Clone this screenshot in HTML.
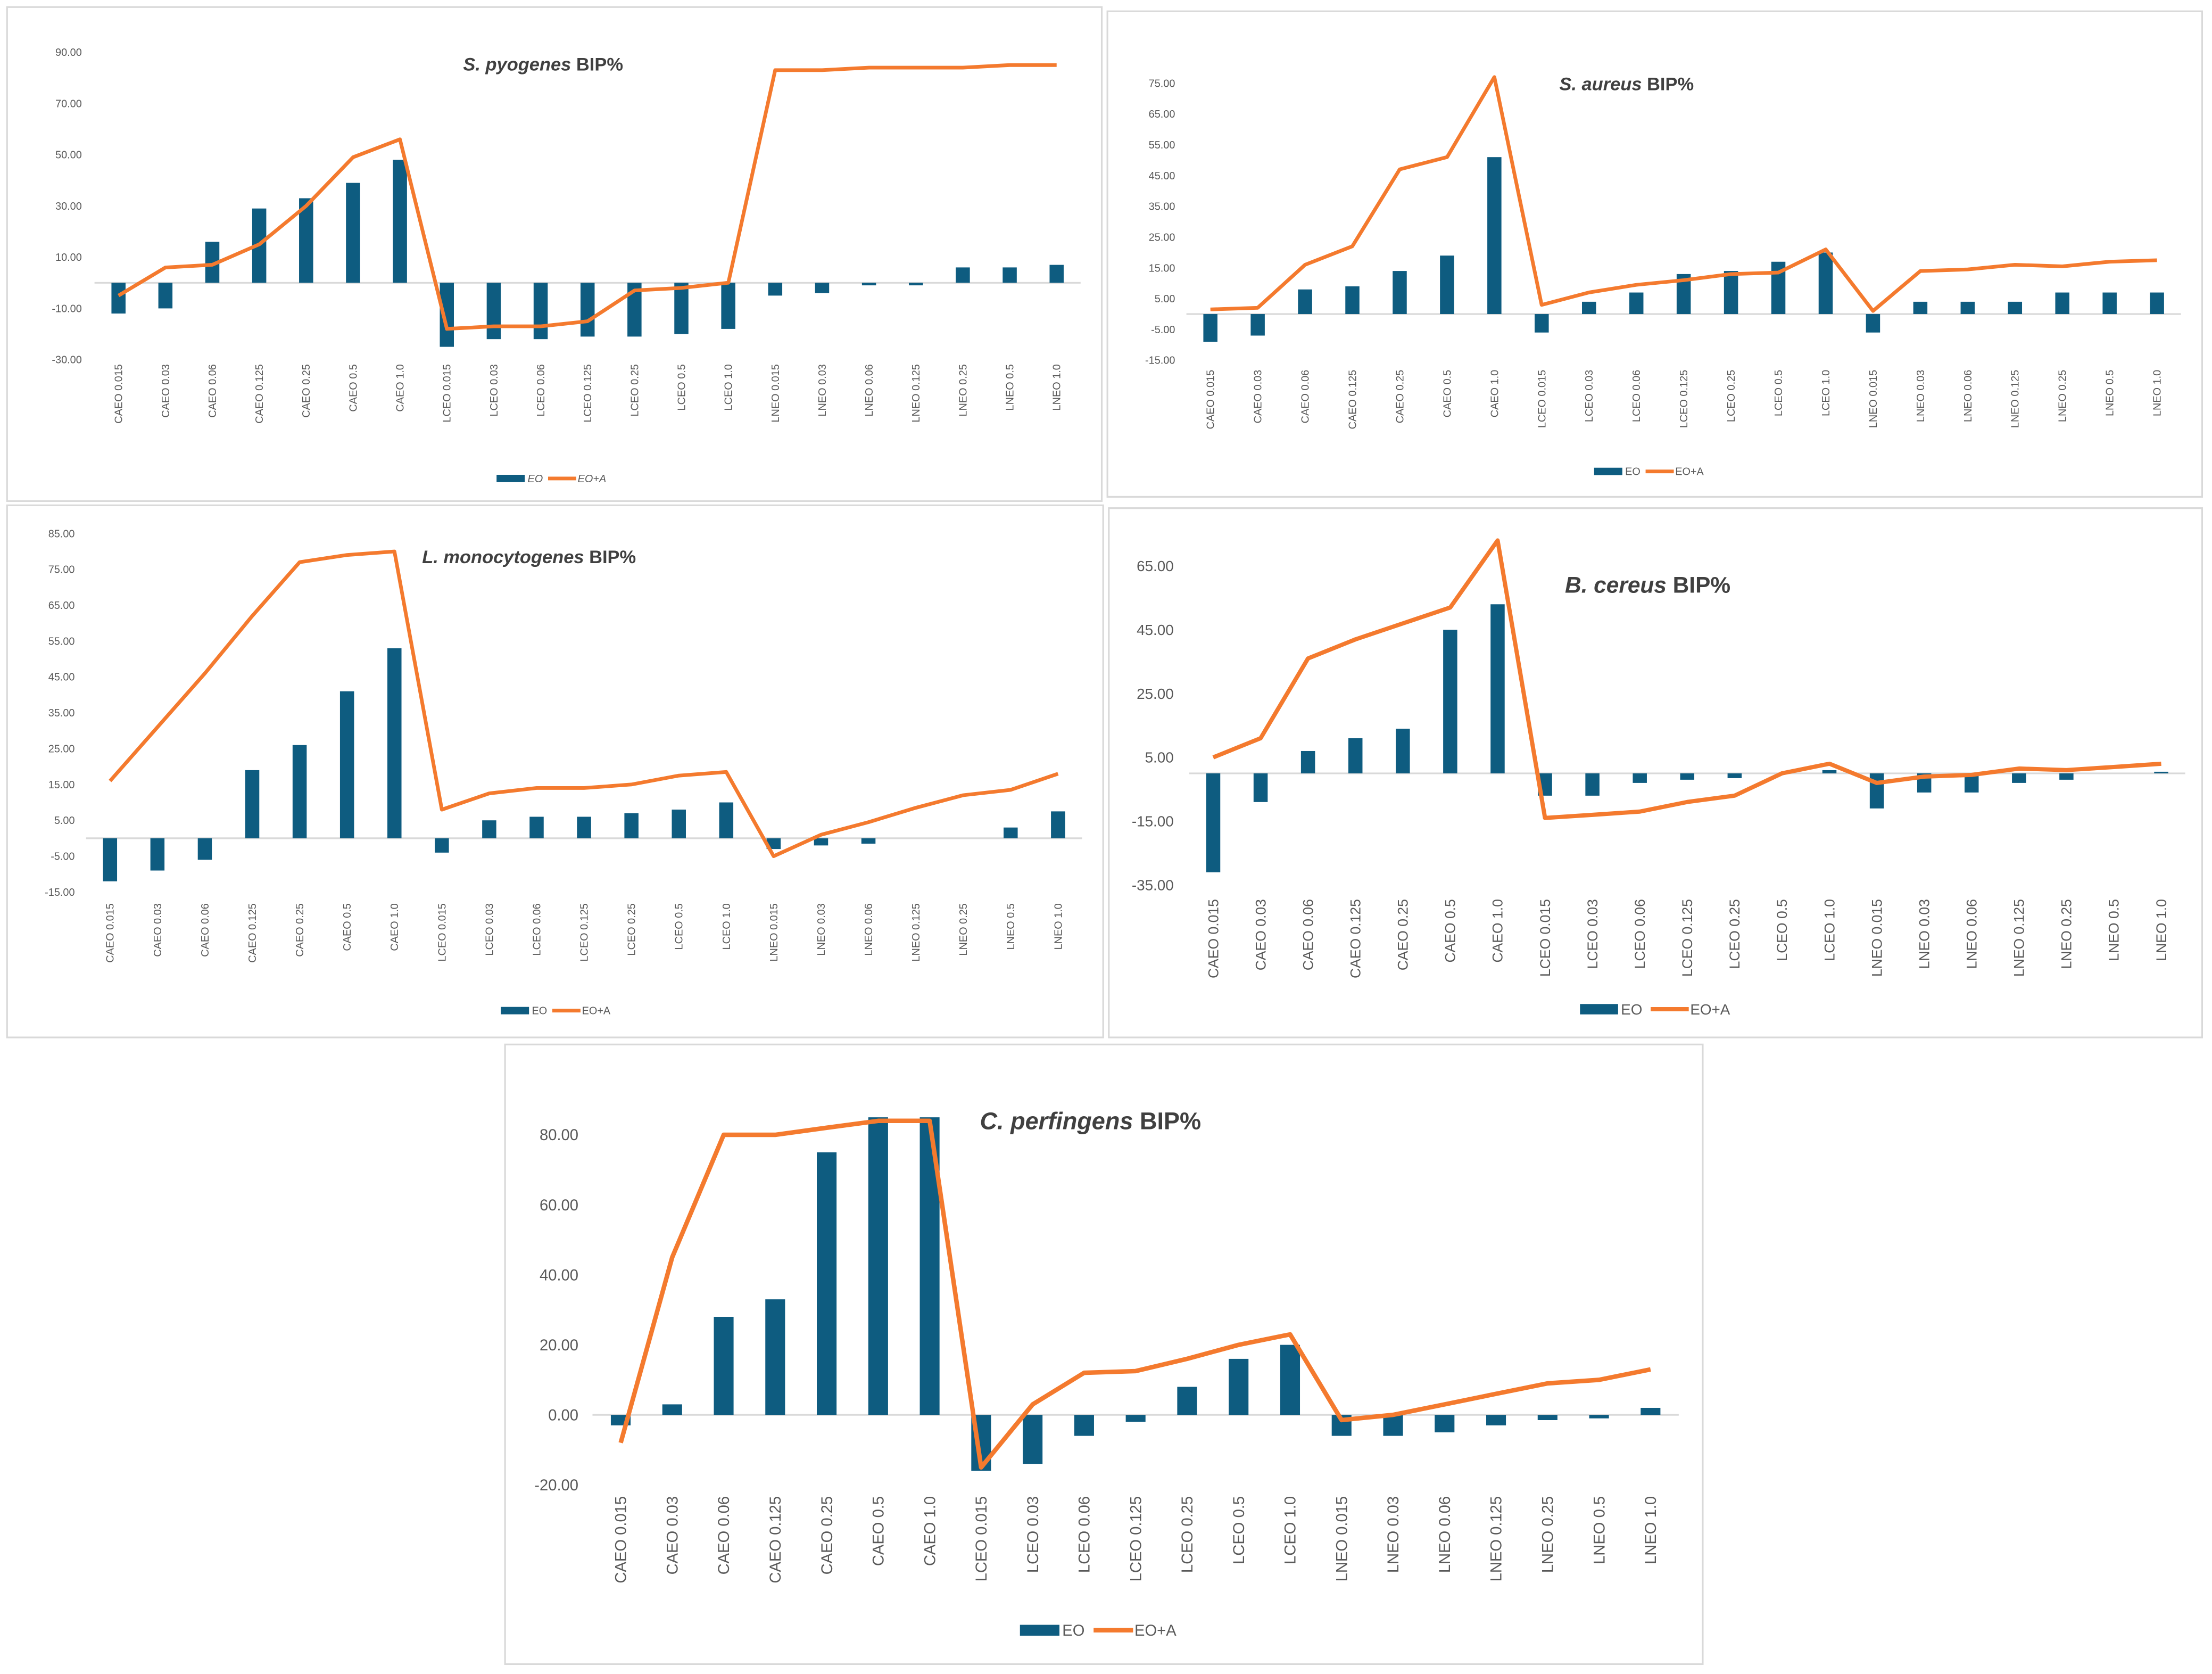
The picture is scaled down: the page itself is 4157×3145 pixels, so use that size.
<!DOCTYPE html>
<html><head><meta charset="utf-8">
<style>
html,body{margin:0;padding:0;background:#fff;}
svg{display:block;}
text{font-family:"Liberation Sans",sans-serif;}
</style></head>
<body>
<svg id="chart" width="4157" height="3145" viewBox="0 0 1568 1186" preserveAspectRatio="none" xmlns="http://www.w3.org/2000/svg"></svg>
<script>
const categories = ["CAEO 0.015","CAEO 0.03","CAEO 0.06","CAEO 0.125","CAEO 0.25","CAEO 0.5","CAEO 1.0","LCEO 0.015","LCEO 0.03","LCEO 0.06","LCEO 0.125","LCEO 0.25","LCEO 0.5","LCEO 1.0","LNEO 0.015","LNEO 0.03","LNEO 0.06","LNEO 0.125","LNEO 0.25","LNEO 0.5","LNEO 1.0"];

const pyoEO  = [-12,-10,16,29,33,39,48,-25,-22,-22,-21,-21,-20,-18,-5,-4,-1,-1,6,6,7];
const pyoEOA = [-5,6,7,15,30,49,56,-18,-17,-17,-15,-3,-2,0,83,83,84,84,84,85,85];
const pyoTicks = [-30,-10,10,30,50,70,90];

const aurEO  = [-9,-7,8,9,14,19,51,-6,4,7,13,14,17,20,-6,4,4,4,7,7,7];
const aurEOA = [1.5,2,16,22,47,51,77,3,7,9.5,11,13,13.5,21,1,14,14.5,16,15.5,17,17.5];
const aurTicks = [-15,-5,5,15,25,35,45,55,65,75];

const lmoEO  = [-12,-9,-6,19,26,41,53,-4,5,6,6,7,8,10,-3,-2,-1.5,0,0,3,7.5];
const lmoEOA = [16,31,46,62,77,79,80,8,12.5,14,14,15,17.5,18.5,-5,1,4.5,8.5,12,13.5,18];
const lmoTicks = [-15,-5,5,15,25,35,45,55,65,75,85];

const cerEO  = [-31,-9,7,11,14,45,53,-7,-7,-3,-2,-1.5,0,1,-11,-6,-6,-3,-2,0,0.5];
const cerEOA = [5,11,36,42,47,52,73,-14,-13,-12,-9,-7,0,3,-3,-1,-0.5,1.5,1,2,3];
const cerTicks = [-35,-15,5,25,45,65];

const perEO  = [-3,3,28,33,75,85,85,-16,-14,-6,-2,8,16,20,-6,-6,-5,-3,-1.5,-1,2];
const perEOA = [-8,45,80,80,82,84,84,-15,3,12,12.5,16,20,23,-1.5,0,3,6,9,10,13];
const perTicks = [-20,0,20,40,60,80];

const NS = "http://www.w3.org/2000/svg";
const svg = document.getElementById("chart");
function mk(tag, attrs, parent){
  const e = document.createElementNS(NS, tag);
  for (const k in attrs) e.setAttribute(k, attrs[k]);
  (parent||svg).appendChild(e);
  return e;
}
const BAR = "#0e5c80", LINE = "#f47a2e";

function panel(o){
  const g = mk("g", {});
  
  
  const fr = mk("rect", {x:o.bx, y:o.by, width:o.bw, height:o.bh, fill:"#fff", stroke:"#d9d9d9", "stroke-width":1.2}, g);
  
  
  const yScale = v => o.y0 - (v - o.v0) * o.ppu;
  const n = categories.length;
  const xScale = i => o.x0 + (o.x1 - o.x0) * i / (n - 1);
  // ticks
  o.ticks.forEach(t => {
    const tx = mk("text", {x:o.tickX, y:yScale(t) + o.fs*0.35, "text-anchor":"end", "font-size":o.fs, fill:"#595959"}, g);
    tx.textContent = t.toFixed(2);
    
    
  });
  // zero axis
  const ax = mk("line", {x1:o.ax0, x2:o.ax1, y1:yScale(0), y2:yScale(0), stroke:"#d9d9d9", "stroke-width":1.2}, g);
  
  
  // bars
  o.eo.forEach((v, i) => {
    const y = Math.min(yScale(v), yScale(0));
    const r = mk("rect", {x:xScale(i) - o.bwid/2, y:y, width:o.bwid, height:Math.abs(yScale(v) - yScale(0)), fill:BAR}, g);
    
    
  });
  // line
  const pts = o.eoa.map((v, i) => xScale(i).toFixed(1) + "," + yScale(v).toFixed(1)).join(" ");
  const pl = mk("polyline", {points:pts, fill:"none", stroke:LINE, "stroke-width":o.lw, "stroke-linejoin":"round"}, g);
  
  
  // category labels
  categories.forEach((c, i) => {
    const x = xScale(i) + o.cfs*0.35, y = o.catY;
    const t = mk("text", {x:x, y:y, "text-anchor":"end", "font-size":o.cfs, fill:"#595959", transform:`rotate(-90 ${x} ${y})`}, g);
    t.textContent = c;
    
    
  });
  // title
  const tt = mk("text", {x:o.tx, y:o.ty, "text-anchor":"middle", "font-size":o.tfs, "font-weight":"bold", fill:"#404040", style:'font-family:"Liberation Sans Narrow","Liberation Sans",sans-serif'}, g);
  
  
  const ts1 = mk("tspan", {"font-style":"italic"}, tt); ts1.textContent = o.species + " ";
  const ts2 = mk("tspan", {}, tt); ts2.textContent = "BIP%";
  // legend
  const lg = mk("g", {}, g);
  
  
  const lb = mk("rect", {x:o.lx, y:o.ly - o.lfs*0.35, width:o.lsw, height:o.lfs*0.7, fill:BAR}, lg);
  
  
  const lt1 = mk("text", {x:o.lx + o.lsw + 2, y:o.ly + o.lfs*0.35, "font-size":o.lfs, fill:"#595959", "font-style":o.lit?"italic":"normal"}, lg);
  lt1.textContent = "EO";
  
  
  const lx2 = o.lx + o.lsw + o.lfs*2.2;
  const ll = mk("line", {x1:lx2, x2:lx2 + o.lsw, y1:o.ly, y2:o.ly, stroke:LINE, "stroke-width":o.lw}, lg);
  
  
  const lt2 = mk("text", {x:lx2 + o.lsw + 1, y:o.ly + o.lfs*0.35, "font-size":o.lfs, fill:"#595959", "font-style":o.lit?"italic":"normal"}, lg);
  lt2.textContent = "EO+A";
  
  
}

panel({id:"s-pyogenes", species:"S. pyogenes", eo:pyoEO, eoa:pyoEOA, ticks:pyoTicks,
  bx:5, by:5, bw:776, bh:350, v0:90, y0:37, ppu:36.3/20, x0:84, x1:749, ax0:67, ax1:766,
  tickX:58, fs:7.5, cfs:7.5, catY:258, bwid:10, lw:2.6, tx:385, ty:50, tfs:13,
  lx:352, ly:339, lsw:20, lfs:7.5, lit:true});
panel({id:"s-aureus", species:"S. aureus", eo:aurEO, eoa:aurEOA, ticks:aurTicks,
  bx:785, by:8, bw:776, bh:344, v0:75, y0:59, ppu:21.8/10, x0:858, x1:1529, ax0:841, ax1:1546,
  tickX:833, fs:7.5, cfs:7.5, catY:262, bwid:10, lw:2.6, tx:1153, ty:64, tfs:13,
  lx:1130, ly:334, lsw:20, lfs:7.5, lit:false});
panel({id:"l-monocytogenes", species:"L. monocytogenes", eo:lmoEO, eoa:lmoEOA, ticks:lmoTicks,
  bx:5, by:358, bw:777, bh:377, v0:85, y0:378, ppu:25.4/10, x0:78, x1:750, ax0:61, ax1:767,
  tickX:53, fs:7.5, cfs:7.5, catY:640, bwid:10, lw:2.6, tx:375, ty:399, tfs:13,
  lx:355, ly:716, lsw:20, lfs:7.5, lit:false});
panel({id:"b-cereus", species:"B. cereus", eo:cerEO, eoa:cerEOA, ticks:cerTicks,
  bx:786, by:360, bw:775, bh:375, v0:65, y0:401, ppu:45.2/20, x0:860, x1:1532, ax0:843, ax1:1549,
  tickX:832, fs:10.5, cfs:10, catY:637, bwid:10, lw:3, tx:1168, ty:420, tfs:16,
  lx:1120, ly:715, lsw:27, lfs:10.5, lit:false});
panel({id:"c-perfingens", species:"C. perfingens", eo:perEO, eoa:perEOA, ticks:perTicks,
  bx:358, by:740, bw:849, bh:439, v0:80, y0:804, ppu:49.6/20, x0:440, x1:1170, ax0:420, ax1:1190,
  tickX:410, fs:11, cfs:11, catY:1060, bwid:14, lw:3.2, tx:773, ty:800, tfs:17,
  lx:723, ly:1155, lsw:28, lfs:11, lit:false});
</script>
</body></html>
